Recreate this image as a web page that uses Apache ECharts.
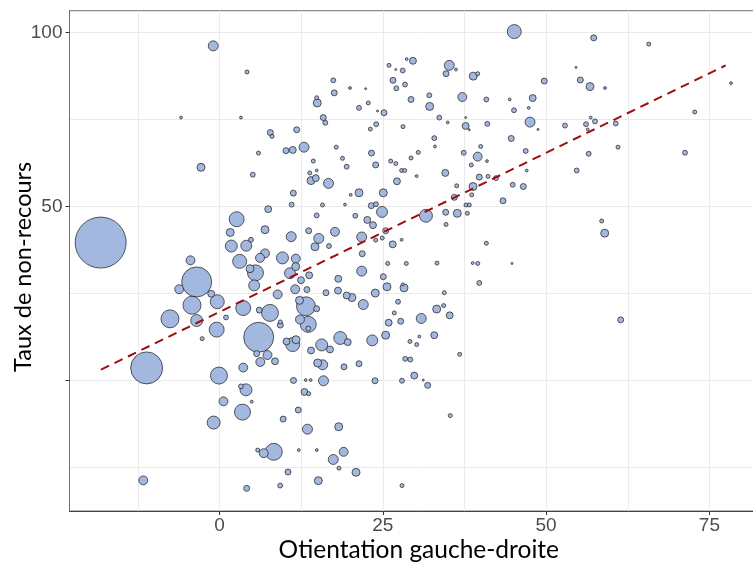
<!DOCTYPE html>
<html>
<head>
<meta charset="utf-8">
<script src="https://cdn.jsdelivr.net/npm/echarts@6/dist/echarts.min.js"></script>
<style>
    html, body { margin: 0; padding: 0; overflow: hidden; background: #fff; }
    #chart { width: 770px; height: 564px; }
</style>
</head>
<body>
<div id="chart"></div>
<script>
// orientation gauche-droite (x)
const orientation = [
    -0.95, 4.21, -5.89, 3.29, -2.83, 5.97, 5.10, -18.19, 2.63, 1.65,
    1.81, 4.10, 4.82, 3.09, -4.44, -3.49, -6.17, -4.21, -0.34, -1.27,
    -7.58, -3.49, -0.43, 1.00, -2.65, 3.63, 6.00, -11.15, -0.08, 3.64,
    3.29, 4.06, 0.61, 4.94, 3.52, -0.89, 5.85, -11.67, 4.16, 11.30,
    11.05, 15.77, 14.01, 16.69, 7.46, 14.88, 6.97, 13.66, 10.98, 15.20,
    14.62, 16.76, 6.97, 6.20, 9.64, 11.68, 11.67, 4.67, 5.51, 10.79,
    12.48, 13.73, 5.31, 11.59, 13.38, 8.91, 16.30, 13.24, 12.25, 14.88,
    12.32, 13.59, 13.59, 9.31, 9.31, 6.09, 7.73, 10.26, 11.71, 11.21,
    15.65, 14.01, 16.92, 5.69, 7.35, 6.25, 8.50, 15.03, 15.80, 11.33,
    13.20, 13.96, 15.92, 13.01, 13.66, 12.06, 9.75, 13.47, 8.31, 6.77,
    12.14, 14.90, 10.49, 15.13, 9.29, 23.81, 27.94, 31.87, 18.25, 35.33,
    19.01, 17.42, 18.29, 20.90, 27.94, 29.82, 28.44, 29.21, 31.20, 20.09,
    21.36, 25.08, 19.21, 23.24, 23.96, 24.88, 20.79, 22.63, 23.50, 17.68,
    21.77, 25.44, 23.91, 24.92, 26.52, 27.89, 21.86, 25.75, 28.60, 33.30,
    38.76, 39.53, 34.63, 36.41, 34.68, 31.61, 35.95, 37.74, 38.24, 37.94,
    38.61, 43.40, 40.85, 39.77, 18.19, 18.14, 19.47, 20.28, 21.77, 25.08,
    25.64, 28.25, 28.05, 23.85, 34.42, 22.01, 27.33, 33.25, 34.32, 35.24,
    30.89, 26.76, 25.90, 27.74, 25.44, 23.39, 18.49, 19.63, 32.88, 30.59,
    29.16, 30.19, 36.77, 19.06, 21.36,
    28.66, 29.62, 25.95, 35.18, 36.21, 34.68, 26.98, 28.05, 38.85, 39.53,
    17.42, 26.56, 28.40, 27.07, 19.98, 22.38, 17.57, 32.12, 37.17, 40.85,
    14.88, 14.97, 29.32, 21.36, 22.78, 32.18, 24.19, 25.18, 15.89, 16.20,
    33.65, 34.94, 37.69, 37.69, 38.24, 41.00, 23.99, 23.09, 28.09, 7.78,
    8.04, 11.82, 32.88, 32.99, 12.94, 10.18, 11.22, 17.87, 37.39, 39.53,
    39.99, 40.95, 23.27, 30.43, 29.32, 26.21, 26.98, 14.36, 18.83, 38.55,
    19.47, 23.91, 13.82, 14.88, 27.89, 28.35, 30.19, 34.57, 39.77, 41.11,
    42.33, 14.74, 27.17, 36.31, 38.81,
    45.13, 57.29, 65.71, 54.58, 49.72, 55.24, 56.72, 59.02, 78.31, 44.43,
    47.95, 47.34, 45.09, 72.75, 47.54, 48.76, 52.89, 56.83, 56.11, 57.49,
    56.37, 60.66, 44.67, 61.01, 46.88, 56.52, 71.27, 47.03, 54.68, 44.89,
    46.51, 58.51, 58.97, 44.78, 61.42
]

// taux de non-recours (y)
const tauxNonRecours = [
    96.1, 88.6, 75.5, 75.5, 61.2, 65.3, 59.1, 39.6, 46.3, 42.5,
    38.6, 38.7, 40.4, 34.2, 34.5, 28.3, 26.2, 21.6, 22.6, 24.9,
    17.7, 17.2, 14.6, 18.1, 12.0, 20.8, 12.4, 3.6, 1.4, 3.7,
    -1.7, -2.7, -6.0, -6.1, -9.1, -12.1, -20.0, -28.7, -31.0, 53.8,
    50.5, 50.4, 57.4, 56.6, 49.2, 47.4, 43.3, 43.0, 41.3, 40.8,
    38.4, 38.6, 36.5, 35.2, 35.2, 35.0, 32.7, 32.1, 30.9, 30.8,
    28.8, 30.2, 27.3, 26.2, 26.1, 24.7, 25.2, 21.3, 23.0, 20.6,
    17.5, 16.1, 14.9, 16.8, 15.9, 20.2, 19.4, 11.2, 11.7, 10.3,
    10.2, 8.6, 8.9, 7.7, 7.3, 5.3, 5.5, 5.0, 4.5, 0.0,
    0.1, 0.1, -0.1, -3.3, -3.8, -8.5, -11.1, -14.0, -20.5, -20.9,
    -20.0, -20.0, -26.3, -28.8, -30.2, -0.1, -0.1, -1.4, -13.3, -10.1,
    -20.5, -22.7, -25.2, -26.4, -30.2, 1.4, 6.2, 6.0, 0.1, 53.3,
    53.9, 53.9, 50.5, 50.2, 50.6, 48.4, 47.3, 46.1, 44.6, 42.7,
    41.2, 43.0, 40.3, 40.9, 39.1, 40.4, 36.4, 33.6, 33.6, 33.7,
    33.7, 33.6, 48.3, 48.0, 44.8, 47.3, 52.6, 50.4, 50.4, 48.0,
    53.3, 51.6, 39.4, 28.0, 29.2, 25.8, 24.4, 23.8, 31.4, 29.8,
    26.9, 26.6, 27.6, 25.1, 25.2, 21.8, 22.6, 20.5, 21.5, 18.7,
    17.8, 19.4, 16.6, 17.0, 13.0, 11.5, 12.2, 11.0, 13.0, 12.6,
    11.2, 10.3, 7.5, 3.9, 4.8,
    92.3, 91.8, 90.5, 90.5, 89.3, 88.1, 89.3, 89.0, 87.4, 88.1,
    86.2, 86.2, 85.0, 83.9, 84.0, 83.8, 82.6, 81.9, 81.4, 80.7,
    81.2, 79.7, 80.7, 78.3, 79.7, 78.7, 77.4, 76.9, 75.5, 74.0,
    75.5, 74.1, 75.5, 73.1, 72.0, 73.7, 73.6, 72.2, 72.9, 71.2,
    70.1, 72.0, 69.6, 67.2, 67.0, 66.0, 66.2, 67.0, 65.4, 64.3,
    67.2, 63.0, 65.3, 65.5, 63.9, 63.0, 62.3, 63.0, 63.8, 61.9,
    61.4, 61.9, 59.6, 60.3, 60.3, 60.3, 58.7, 59.6, 58.4, 58.6,
    58.1, 58.1, 57.2, 55.9, 55.7,
    100.2, 98.4, 96.6, 89.9, 86.0, 86.3, 84.4, 84.0, 85.4, 80.7,
    81.1, 78.3, 77.6, 77.1, 74.2, 72.1, 73.2, 75.5, 73.6, 74.4,
    72.1, 73.8, 69.5, 67.0, 65.9, 65.1, 65.4, 60.3, 60.3, 56.2,
    55.7, 45.8, 42.3, 33.6, 17.4
]

// poids (taille des bulles)
const poids = [
    25, 4, 2, 2, 16, 4, 6, 650, 56, 16,
    36, 30, 6, 49, 20, 225, 20, 81, 49, 12,
    81, 36, 56, 6, 4, 56, 225, 256, 72, 20,
    6, 36, 20, 2, 64, 42, 4, 20, 9, 9,
    6, 4, 16, 25, 12, 6, 16, 9, 25, 25,
    16, 6, 20, 20, 36, 20, 16, 16, 64, 30,
    12, 12, 30, 20, 9, 20, 9, 90, 16, 9,
    20, 64, 6, 4, 9, 9, 72, 12, 16, 49,
    36, 12, 12, 9, 20, 20, 12, 16, 25, 9,
    2, 2, 25, 12, 4, 9, 9, 25, 72, 20,
    2, 2, 9, 16, 6, 9, 6, 9, 16, 4,
    20, 25, 4, 16, 4, 12, 6, 6, 1, 2,
    16, 16, 2, 9, 6, 30, 6, 12, 12, 20,
    25, 9, 4, 4, 12, 2, 9, 4, 4, 4,
    2, 4, 9, 16, 4, 42, 9, 4, 4, 4,
    4, 9, 4, 6, 12, 12, 12, 16, 25, 9,
    16, 16, 2, 16, 4, 25, 6, 16, 4, 12,
    25, 4, 12, 9, 16, 30, 42, 12, 12, 2,
    4, 4, 4, 9, 9,
    2, 12, 4, 25, 2, 9, 1, 6, 16, 4,
    6, 9, 6, 6, 2, 1, 9, 6, 20, 6,
    4, 16, 9, 6, 4, 16, 1, 9, 9, 6,
    6, 2, 1, 12, 1, 6, 6, 4, 4, 9,
    4, 9, 6, 2, 25, 9, 12, 4, 6, 20,
    4, 2, 9, 4, 4, 4, 4, 4, 4, 4,
    6, 9, 4, 2, 4, 4, 2, 12, 9, 4,
    6, 12, 12, 4, 16,
    49, 9, 4, 1, 9, 9, 16, 2, 2, 2,
    12, 2, 6, 4, 25, 1, 6, 2, 6, 6,
    2, 6, 9, 4, 6, 6, 6, 2, 6, 6,
    9, 4, 16, 1, 9
]

// droite de tendance (extrémités lues)
const trendX = [-18.14, 77.5]
const trendY = [3.1, 90.5]

// axes
const xTicks = [0, 25, 50, 75]
const yTicks = [0, 50, 100]
const yLabels = [50, 100]
const xGrid = [-12.5, 0, 12.5, 25, 37.5, 50, 62.5, 75]
const yGrid = [-25, 0, 25, 50, 75, 100]

const chart = echarts.init(document.getElementById("chart"))

const points = orientation.map((x, i) => [x, tauxNonRecours[i], poids[i]])
    .sort((a, b) => b[2] - a[2])

const labelFont = "'Liberation Sans', Arial, sans-serif"
const titleFont = "Lato, 'Open Sans', sans-serif"

const option = {
    animation: false,
    grid: {
        left: 69.5,
        top: 10.7,
        right: 2,
        bottom: 53,
        show: true,
        borderColor: "#6e6e6e",
        borderWidth: 1,
        outerBoundsMode: "none"
    },
    xAxis: {
        type: "value",
        min: -22.96,
        max: 83.97,
        axisLine: { show: true, onZero: false, lineStyle: { color: "#444", width: 1 } },
        axisTick: { show: true, customValues: xTicks, length: 4, lineStyle: { color: "#333" } },
        axisLabel: { customValues: xTicks, fontSize: 19, color: "#4d4d4d", fontFamily: labelFont, margin: 5 },
        splitLine: { show: false },
        name: "Otientation gauche-droite",
        nameLocation: "middle",
        nameGap: 27,
        nameMoveOverlap: false,
        nameTextStyle: { fontSize: 24.5, color: "#000", fontFamily: titleFont }
    },
    yAxis: {
        type: "value",
        min: -37.5,
        max: 106.2,
        axisLine: { show: true, onZero: false, lineStyle: { color: "#6e6e6e", width: 1 } },
        axisTick: { show: true, customValues: yTicks, length: 4, lineStyle: { color: "#333" } },
        axisLabel: { customValues: yLabels, fontSize: 19, color: "#4d4d4d", fontFamily: labelFont, margin: 7 },
        splitLine: { show: false },
        name: "Taux de non-recours",
        nameLocation: "middle",
        nameGap: 34,
        nameMoveOverlap: false,
        nameTextStyle: { fontSize: 23.5, color: "#000", fontFamily: titleFont, padding: [0, 12, 0, 0] }
    },
    series: [
        {
            // grille
            type: "line",
            data: [],
            z: 0,
            silent: true,
            markLine: {
                z: 0,
                silent: true,
                symbol: ["none", "none"],
                label: { show: false },
                lineStyle: { color: "#ebebeb", width: 1, type: "solid" },
                emphasis: { disabled: true },
                data: yGrid.map(v => ({ yAxis: v })).concat(xGrid.map(v => ({ xAxis: v })))
            }
        },
        {
            type: "scatter",
            z: 2,
            data: points,
            symbolSize: (val) => 2 * Math.sqrt(val[2]),
            itemStyle: {
                color: "#a3b8de",
                borderColor: "#1a1a1a",
                borderWidth: 0.7,
                opacity: 1
            }
        },
        {
            type: "line",
            z: 3,
            data: trendX.map((x, i) => [x, trendY[i]]),
            showSymbol: false,
            symbol: "none",
            lineStyle: { color: "#a00d0d", width: 2, type: [9, 6] }
        }
    ]
}

chart.setOption(option)
</script>
</body>
</html>
